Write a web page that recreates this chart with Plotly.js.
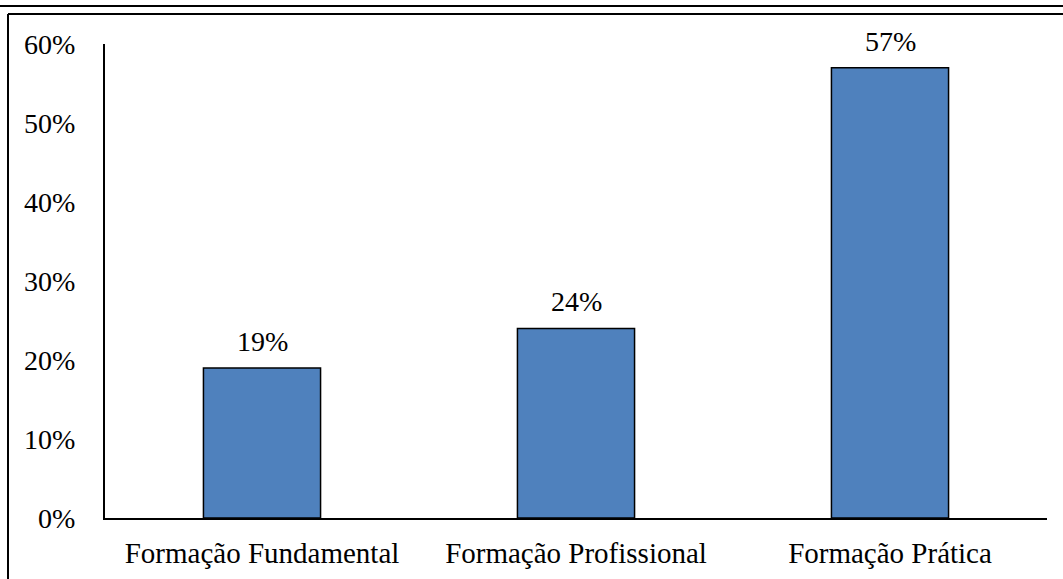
<!DOCTYPE html>
<html>
<head>
<meta charset="utf-8">
<script src="https://cdn.plot.ly/plotly-3.0.1.min.js"></script>
<style>
html,body{margin:0;padding:0;background:#fff;}
#chart{width:1063px;height:579px;}
</style>
</head>
<body>
<div id="chart"></div>
<script>
const categories = ["Formação Fundamental", "Formação Profissional", "Formação Prática"];
const values = [0.19, 0.24, 0.57];
const valueLabels = ["19%", "24%", "57%"];
const tickValues = [0, 0.1, 0.2, 0.3, 0.4, 0.5, 0.6];
const tickLabels = ["0%", "10%", "20%", "30%", "40%", "50%", "60%"];

const FONT = "Liberation Serif";
const FS = 28;

const trace = {
  type: "bar",
  x: categories,
  y: values,
  marker: {color: "#4F81BD", line: {color: "#000000", width: 1.5}},
  hoverinfo: "none"
};

const annotations = categories.map((c, i) => ({
  x: c, y: values[i], xref: "x", yref: "y",
  text: valueLabels[i], showarrow: false,
  yanchor: "bottom", yshift: 9,
  font: {family: FONT, size: FS, color: "#000"}
}));

const W = 942, H = 474, L = 105, T = 44;
const px = v => (v - L) / W;
const py = v => (T + H - v) / H;

const shapes = [
  {type: "line", xref: "paper", yref: "paper", x0: px(0), x1: px(1063), y0: py(6), y1: py(6), line: {color: "#000", width: 2}},
  {type: "line", xref: "paper", yref: "paper", x0: px(8), x1: px(1063), y0: py(14), y1: py(14), line: {color: "#000", width: 2}},
  {type: "line", xref: "paper", yref: "paper", x0: px(8), x1: px(8), y0: py(14), y1: py(585), line: {color: "#000", width: 2}}
];

const layout = {
  width: 1063, height: 579,
  margin: {l: L, r: 1063 - L - W, t: T, b: 579 - T - H, pad: 0},
  paper_bgcolor: "#fff", plot_bgcolor: "#fff",
  showlegend: false,
  bargap: 0.627,
  font: {family: FONT, size: FS, color: "#000"},
  xaxis: {
    showgrid: false, zeroline: false, showline: true, linecolor: "#000", linewidth: 2,
    ticks: "", ticklabelstandoff: 8,
    tickfont: {family: FONT, size: 29, color: "#000"}
  },
  yaxis: {
    range: [0, 0.6], showgrid: false, zeroline: false, showline: true, linecolor: "#000", linewidth: 2,
    ticks: "", tickvals: tickValues, ticktext: tickLabels, ticklabelstandoff: 22,
    tickfont: {family: FONT, size: FS, color: "#000"}
  },
  annotations: annotations,
  shapes: shapes
};

Plotly.newPlot("chart", [trace], layout, {displayModeBar: false});
</script>
</body>
</html>
